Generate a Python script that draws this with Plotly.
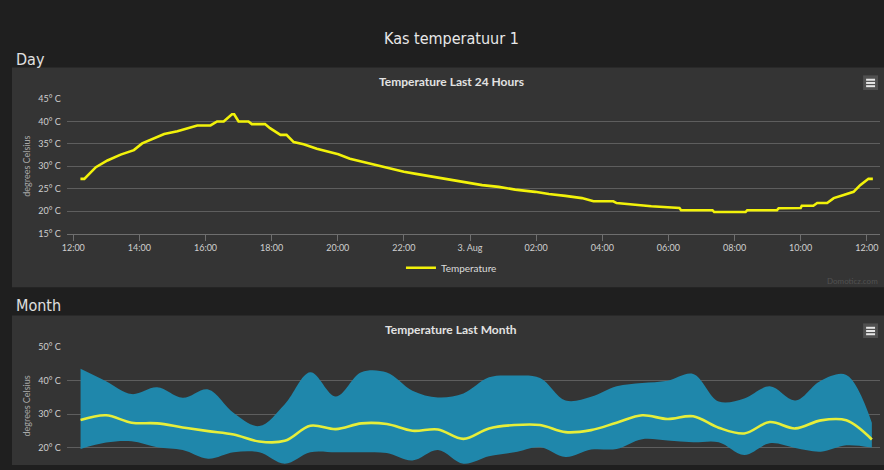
import plotly.graph_objects as go

W, H = 884, 470

# ---------------- Data ----------------
# Day chart (Temperature Last 24 Hours)
day_times = [
    "2023-08-02 12:13", "2023-08-02 12:20", "2023-08-02 12:41", "2023-08-02 13:02",
    "2023-08-02 13:26", "2023-08-02 13:50", "2023-08-02 14:05", "2023-08-02 14:21",
    "2023-08-02 14:45", "2023-08-02 15:09", "2023-08-02 15:33", "2023-08-02 15:45",
    "2023-08-02 16:09", "2023-08-02 16:21", "2023-08-02 16:33", "2023-08-02 16:48",
    "2023-08-02 16:52", "2023-08-02 17:00", "2023-08-02 17:18", "2023-08-02 17:24",
    "2023-08-02 17:48", "2023-08-02 17:57", "2023-08-02 18:16", "2023-08-02 18:27",
    "2023-08-02 18:40", "2023-08-02 18:58", "2023-08-02 19:22", "2023-08-02 19:40",
    "2023-08-02 20:01", "2023-08-02 20:22", "2023-08-02 20:46", "2023-08-02 21:10",
    "2023-08-02 21:34", "2023-08-02 22:00", "2023-08-02 22:22", "2023-08-02 22:46",
    "2023-08-02 23:10", "2023-08-02 23:34", "2023-08-03 00:00", "2023-08-03 00:22",
    "2023-08-03 00:52", "2023-08-03 01:22", "2023-08-03 01:58", "2023-08-03 02:23",
    "2023-08-03 02:53", "2023-08-03 03:23", "2023-08-03 03:44", "2023-08-03 04:20",
    "2023-08-03 04:26", "2023-08-03 04:59", "2023-08-03 05:29", "2023-08-03 06:20",
    "2023-08-03 06:23", "2023-08-03 07:20", "2023-08-03 07:23", "2023-08-03 08:20",
    "2023-08-03 08:23", "2023-08-03 09:17", "2023-08-03 09:20", "2023-08-03 10:00",
    "2023-08-03 10:02", "2023-08-03 10:23", "2023-08-03 10:30", "2023-08-03 10:48",
    "2023-08-03 11:00", "2023-08-03 11:18", "2023-08-03 11:36", "2023-08-03 11:48",
    "2023-08-03 12:03", "2023-08-03 12:11",
]
day_temps = [
    27.2, 27.2, 29.8, 31.3,
    32.6, 33.6, 35.1, 35.9,
    37.2, 37.8, 38.6, 39.1,
    39.1, 40.0, 40.0, 41.6,
    41.6, 40.0, 40.0, 39.4,
    39.4, 38.5, 37.0, 37.0,
    35.4, 34.9, 33.9, 33.4,
    32.7, 31.7, 31.0, 30.2,
    29.6, 28.8, 28.3, 27.8,
    27.2, 26.7, 26.3, 25.8,
    25.4, 24.8, 24.3, 23.8,
    23.4, 22.9, 22.2, 22.2,
    21.8, 21.4, 21.1, 20.7,
    20.2, 20.2, 19.8, 19.8,
    20.2, 20.2, 20.65, 20.7,
    21.2, 21.2, 21.8, 21.8,
    22.9, 23.6, 24.3, 25.8,
    27.2, 27.2,
]
day_tick_vals = [
    "2023-08-02 12:00", "2023-08-02 14:00", "2023-08-02 16:00", "2023-08-02 18:00",
    "2023-08-02 20:00", "2023-08-02 22:00", "2023-08-03 00:00", "2023-08-03 02:00",
    "2023-08-03 04:00", "2023-08-03 06:00", "2023-08-03 08:00", "2023-08-03 10:00",
    "2023-08-03 12:00",
]
day_tick_text = ["12:00", "14:00", "16:00", "18:00", "20:00", "22:00", "3. Aug",
                 "02:00", "04:00", "06:00", "08:00", "10:00", "12:00"]
day_y_vals = [15, 20, 25, 30, 35, 40, 45]
day_y_text = ["15° C", "20° C", "25° C", "30° C", "35° C", "40° C", "45° C"]

# Month chart (Temperature Last Month)
month_dates = [
    "2023-07-03", "2023-07-04", "2023-07-05", "2023-07-06", "2023-07-07", "2023-07-08",
    "2023-07-09", "2023-07-10", "2023-07-11", "2023-07-12", "2023-07-13", "2023-07-14",
    "2023-07-15", "2023-07-16", "2023-07-17", "2023-07-18", "2023-07-19", "2023-07-20",
    "2023-07-21", "2023-07-22", "2023-07-23", "2023-07-24", "2023-07-25", "2023-07-26",
    "2023-07-27", "2023-07-28", "2023-07-29", "2023-07-30", "2023-07-31", "2023-08-01",
    "2023-08-02", "2023-08-03",
]
month_max = [43.5, 39.8, 36.0, 38.0, 34.9, 37.4, 30.4, 26.5, 33.0, 42.5, 35.3, 42.5,
             42.4, 37.0, 35.0, 36.2, 41.0, 41.5, 40.8, 34.1, 35.2, 38.3, 39.3, 40.0,
             42.0, 33.8, 34.7, 38.3, 34.1, 40.0, 41.7, 27.5]
month_min = [19.7, 21.6, 22.0, 20.2, 19.4, 16.8, 18.7, 18.7, 15.3, 18.7, 18.7, 18.7,
             18.5, 16.3, 19.4, 15.3, 17.5, 18.7, 20.2, 17.3, 19.5, 19.7, 22.6, 22.2,
             21.7, 21.7, 17.9, 21.4, 20.0, 18.9, 20.8, 20.1]
month_avg = [28.3, 29.7, 27.5, 27.3, 26.1, 25.0, 24.0, 21.9, 22.1, 26.6, 25.6, 27.3,
             27.1, 25.1, 25.5, 22.7, 25.8, 26.8, 26.8, 24.7, 25.3, 27.5, 29.7, 28.6,
             29.4, 26.0, 24.3, 27.7, 25.8, 28.2, 28.2, 22.5]
month_y_vals = [20, 30, 40, 50]
month_y_text = ["20° C", "30° C", "40° C", "50° C"]

# ---------------- Styling helpers ----------------
def fx(px):
    return px / W

def fy(py):
    return 1 - py / H

PAGE_BG = "#1f1f1f"
PANEL_BG = "#343434"
GRID = "#5e5e5e"
TICK_FONT = dict(family="Lato, Open Sans, sans-serif", size=9, color="#cfcfcf")
YELLOW = "#f2f20a"
BAND = "#1f87ab"
NARROW = "DejaVu Sans Condensed, Liberation Sans Narrow, Arial Narrow, Roboto, sans-serif"

fig = go.Figure()

fig.add_trace(go.Scatter(
    x=day_times, y=day_temps, mode="lines", name="Temperature",
    line=dict(color=YELLOW, width=2.6), xaxis="x", yaxis="y", showlegend=True,
))

fig.add_trace(go.Scatter(
    x=month_dates, y=month_min, mode="lines", line=dict(width=0, shape="spline", color=BAND),
    xaxis="x2", yaxis="y2", showlegend=False, hoverinfo="skip",
))
fig.add_trace(go.Scatter(
    x=month_dates, y=month_max, mode="lines", line=dict(width=0, shape="spline", color=BAND),
    fill="tonexty", fillcolor=BAND, xaxis="x2", yaxis="y2", showlegend=False,
))
fig.add_trace(go.Scatter(
    x=month_dates, y=month_avg, mode="lines",
    line=dict(color="#e6ee3a", width=2.6, shape="spline"),
    xaxis="x2", yaxis="y2", showlegend=False,
))

shapes = [
    # panels
    dict(type="rect", xref="paper", yref="paper", x0=fx(7), x1=1.0, y0=fy(288), y1=fy(63),
         fillcolor=PANEL_BG, line=dict(width=0), layer="below"),
    dict(type="rect", xref="paper", yref="paper", x0=fx(7), x1=1.0, y0=0, y1=fy(317),
         fillcolor=PANEL_BG, line=dict(width=0), layer="below"),
]
# hamburger buttons
for top in (71, 325):
    shapes.append(dict(type="rect", xref="paper", yref="paper", x0=fx(863), x1=fx(878),
                       y0=fy(top + 15), y1=fy(top), fillcolor="#505050",
                       line=dict(width=0), layer="above"))
    for dy in (4.5, 7.8, 11.1):
        shapes.append(dict(type="line", xref="paper", yref="paper", x0=fx(866), x1=fx(875),
                           y0=fy(top + dy), y1=fy(top + dy),
                           line=dict(color="#e6e6e6", width=2), layer="above"))

annotations = [
    dict(text="Kas temperatuur 1", x=fx(449), y=fy(33), xref="paper", yref="paper",
         showarrow=False, xanchor="center", yanchor="middle",
         font=dict(family=NARROW, size=16, color="#e8e8e8")),
    dict(text="Day", x=fx(9), y=fy(55), xref="paper", yref="paper", showarrow=False,
         xanchor="left", yanchor="middle",
         font=dict(family=NARROW, size=16, color="#e0e0e0")),
    dict(text="Month", x=fx(9), y=fy(307), xref="paper", yref="paper", showarrow=False,
         xanchor="left", yanchor="middle",
         font=dict(family=NARROW, size=16, color="#e0e0e0")),
    dict(text="<b>Temperature Last 24 Hours</b>", x=fx(449), y=fy(77), xref="paper",
         yref="paper", showarrow=False, xanchor="center", yanchor="middle",
         font=dict(family="Lato, Open Sans, sans-serif", size=12, color="#e2e2e2")),
    dict(text="<b>Temperature Last Month</b>", x=fx(449), y=fy(331), xref="paper",
         yref="paper", showarrow=False, xanchor="center", yanchor="middle",
         font=dict(family="Lato, Open Sans, sans-serif", size=12, color="#e2e2e2")),
    dict(text="Domoticz.com", x=fx(880), y=fy(282), xref="paper", yref="paper",
         showarrow=False, xanchor="right", yanchor="middle",
         font=dict(family="Lato, Open Sans, sans-serif", size=8, color="#525252")),
]

fig.update_layout(
    width=W, height=H,
    margin=dict(l=0, r=0, t=0, b=0),
    paper_bgcolor=PAGE_BG, plot_bgcolor="rgba(0,0,0,0)",
    shapes=shapes, annotations=annotations,
    showlegend=True,
    legend=dict(orientation="h", x=fx(449), xanchor="center", y=fy(268), yanchor="middle",
                bgcolor="rgba(0,0,0,0)", itemwidth=30,
                font=dict(family="Lato, Open Sans, sans-serif", size=10, color="#dcdcdc")),
    xaxis=dict(domain=[fx(62), fx(880)], anchor="y", type="date",
               range=["2023-08-02 11:48", "2023-08-03 12:24"],
               tickmode="array", tickvals=day_tick_vals, ticktext=day_tick_text,
               ticks="outside", ticklen=6, tickcolor="#6e6e6e",
               showgrid=False, showline=True, linecolor="#6e6e6e", linewidth=1,
               zeroline=False, tickfont=TICK_FONT),
    yaxis=dict(domain=[fy(233), fy(95)], anchor="x", range=[15, 45.05],
               tickmode="array", tickvals=day_y_vals, ticktext=day_y_text,
               ticks="outside", ticklen=3, tickcolor="rgba(0,0,0,0)",
               showgrid=True, gridcolor=GRID, gridwidth=1, zeroline=False, showline=False,
               tickfont=TICK_FONT,
               title=dict(text="degrees Celsius", standoff=6,
                          font=dict(family="Lato, Open Sans, sans-serif", size=9,
                                    color="#a8a8a8"))),
    xaxis2=dict(domain=[fx(62), fx(880)], anchor="y2", type="date",
                range=["2023-07-02 10:55", "2023-08-03 07:41"],
                showticklabels=False, showgrid=False, zeroline=False, showline=False,
                ticks=""),
    yaxis2=dict(domain=[0, fy(349)], anchor="x2", range=[14.93, 50.05],
                tickmode="array", tickvals=month_y_vals, ticktext=month_y_text,
                ticks="outside", ticklen=3, tickcolor="rgba(0,0,0,0)",
                showgrid=True, gridcolor=GRID, gridwidth=1, zeroline=False, showline=False,
                tickfont=TICK_FONT,
                title=dict(text="degrees Celsius", standoff=6,
                           font=dict(family="Lato, Open Sans, sans-serif", size=9,
                                     color="#a8a8a8"))),
)

fig.write_html("out.html", config={"displayModeBar": False},
               post_script="document.body.style.margin='0';document.body.style.background='#1f1f1f';")
